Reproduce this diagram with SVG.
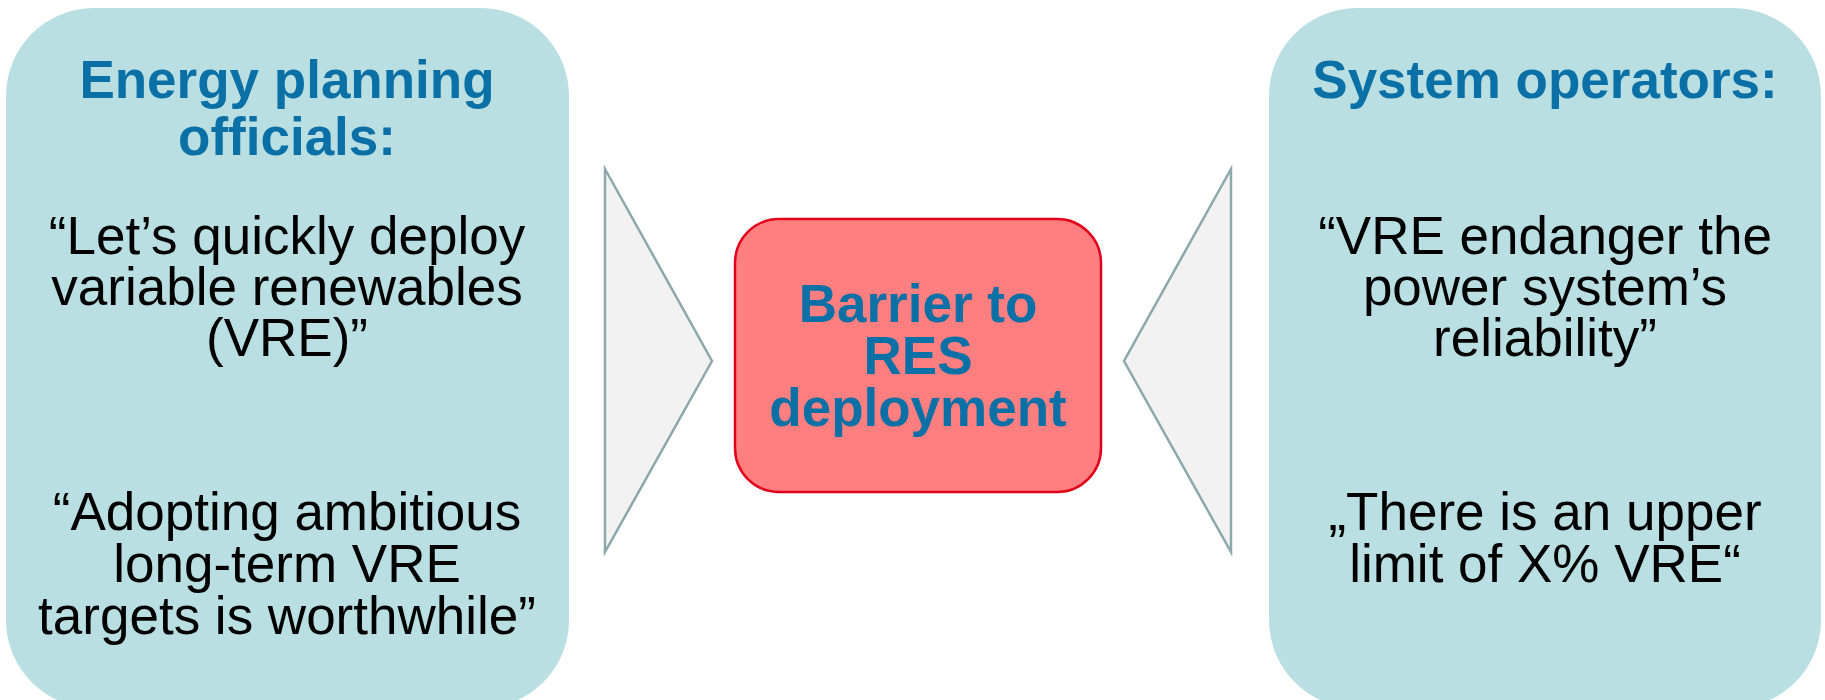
<svg xmlns="http://www.w3.org/2000/svg" width="1825" height="700" viewBox="0 0 1825 700">
<style>
.side{fill:#B9DFE3;}
.title{font-family:"Liberation Sans",Arial,sans-serif;font-weight:bold;font-size:53px;fill:#0A70A6;text-anchor:middle;}
.quote{font-family:"Liberation Sans",Arial,sans-serif;font-size:53px;fill:#000;text-anchor:middle;}
.tri{fill:#F2F2F2;stroke:#8CA8AB;stroke-width:2.5;stroke-linejoin:miter;}
.center{fill:#FF7F80;stroke:#E2001A;stroke-width:2.5;}
</style>
<rect width="1825" height="700" fill="#FFFFFF"/>
<g id="planning-officials">
<rect class="side" x="6" y="8" width="563" height="700" rx="88" ry="88"/>
<text class="title" x="287" y="98">Energy planning</text>
<text class="title" x="287" y="155">officials:</text>
<text class="quote" x="287" y="254">“Let’s quickly deploy</text>
<text class="quote" x="287" y="305">variable renewables</text>
<text class="quote" x="287" y="356">(VRE)”</text>
<text class="quote" x="287" y="530">“Adopting ambitious</text>
<text class="quote" x="287" y="582">long-term VRE</text>
<text class="quote" x="287" y="634">targets is worthwhile”</text>
</g>
<g id="system-operators">
<rect class="side" x="1269" y="8" width="552" height="700" rx="88" ry="88"/>
<text class="title" x="1545" y="98">System operators:</text>
<text class="quote" x="1545" y="254">“VRE endanger the</text>
<text class="quote" x="1545" y="305">power system’s</text>
<text class="quote" x="1545" y="356">reliability”</text>
<text class="quote" x="1545" y="530">„There is an upper</text>
<text class="quote" x="1545" y="582">limit of X% VRE“</text>
</g>
<g id="connectors">
<polygon class="tri" points="605,169 712,361 605,552"/>
<polygon class="tri" points="1231,169 1124,361 1231,552"/>
</g>
<g id="barrier">
<rect class="center" x="735" y="219" width="366" height="273" rx="44" ry="44"/>
<text class="title" x="918" y="322">Barrier to</text>
<text class="title" x="918" y="374">RES</text>
<text class="title" x="918" y="426">deployment</text>
</g>
</svg>
